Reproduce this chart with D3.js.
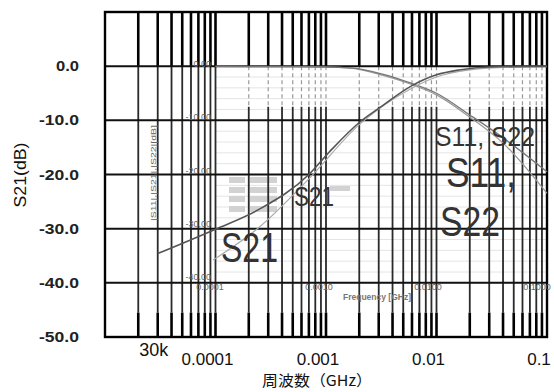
<!DOCTYPE html>
<html><head><meta charset="utf-8">
<script src="https://cdn.jsdelivr.net/npm/d3@7"></script>
<style>body{margin:0;background:#fff}svg{display:block}</style>
</head><body><svg id="c" width="554" height="392"></svg>
<script>
// ---- data ----
const xTickValues = [3e-5, 1e-4, 1e-3, 1e-2, 1e-1];
const xTickLabels = ["30k", "0.0001", "0.001", "0.01", "0.1"];
const yTickValues = [0, -10, -20, -30, -40, -50];
const yTickLabels = ["0.0", "-10.0", "-20.0", "-30.0", "-40.0", "-50.0"];
const innerYTicks = [0, -10, -20, -30, -40];
const innerYLabels = ["0.00", "-10.00", "-20.00", "-30.00", "-40.00"];
const innerXTicks = [1e-4, 1e-3, 1e-2, 1e-1];
const innerXLabels = ["0.0001", "0.0010", "0.0100", "0.1000"];

// S21 (main trace), frequency in GHz, level in dB
const s21Freq = [3e-5, 1e-4, 2.5e-4, 7e-4, 1.1e-3, 2e-3, 3e-3, 6e-3, 1e-2, 1.6e-2, 3e-2, 1e-1];
const s21dB   = [-34.6, -30.1, -26.4, -20.0, -15.6, -10.4, -7.8, -3.6, -1.6, -0.7, -0.15, 0];
// S21 (overlay trace)
const s21bFreq = [9.5e-5, 2.5e-4, 7e-4, 2e-3, 5.8e-3, 1e-2, 2e-2, 4e-2, 1e-1];
const s21bdB   = [-35.8, -29.7, -20.8, -10.8, -4.2, -2.0, -0.7, -0.25, -0.1];
// S11 / S22
const sRefFreq = [1e-4, 5.8e-4, 1.65e-3, 3.3e-3, 5.8e-3, 1e-2, 2e-2, 4e-2, 1e-1];
const s11dB    = [-0.05, -0.1, -0.3, -1.5, -3.1, -5.0, -9.0, -13.2, -19.5];
const s22dB    = [-0.05, -0.1, -0.35, -1.7, -3.3, -5.3, -9.4, -14.2, -23.5];

// ---- scales ----
const L = 105, R = 547, T = 12, B = 337;
const x = d3.scaleLog().domain([1e-5, 1e-1]).range([L, R]);
const y = d3.scaleLinear().domain([-50, 10]).range([B, T]);
const xi = d3.scaleLog().domain([1e-4, 1e-1]).range([210, 537]);
const yi = d3.scaleLinear().domain([-40, 0]).range([279, 66]);

const svg = d3.select("#c");
const font = "'Liberation Sans', Arial, sans-serif";

// inner (overlay) faint grid
const innerG = svg.append("g");
innerG.selectAll("line.h").data(d3.range(0, -41, -2)).join("line")
  .attr("x1", x(1e-4)).attr("x2", R).attr("y1", d => y(d)).attr("y2", d => y(d))
  .attr("stroke", "#e4e4e4").attr("stroke-width", 1);
innerG.append("line").attr("x1", x(1e-4)).attr("x2", x(1e-4)).attr("y1", y(0)).attr("y2", y(-40))
  .attr("stroke", "#bbb").attr("stroke-width", 1);

// legend-like gray blocks of the overlay
const blockRows = [0, 1, 2, 3];
innerG.selectAll("rect.a").data(blockRows).join("rect")
  .attr("x", 229).attr("y", d => 177 + d * 10 - (d > 1 ? 1 : 0)).attr("width", 16).attr("height", 6).attr("fill", "#d2d2d2");
innerG.selectAll("rect.b").data(blockRows).join("rect")
  .attr("x", 250).attr("y", d => 177 + d * 10 - (d > 1 ? 1 : 0)).attr("width", 27).attr("height", 6).attr("fill", "#d2d2d2");
innerG.append("rect").attr("x", 330).attr("y", 186).attr("width", 20).attr("height", 5).attr("fill", "#d2d2d2");

// vertical log grid
const vt = x.ticks().filter(f => f > 1.01e-5 && f < 0.099);
const vg = svg.append("g");
const yTopEnd = y(0), yDashEnd = y(-7.5), yBotStart = y(-45.5);
vt.forEach(f => {
  const px = x(f);
  vg.append("line").attr("x1", px).attr("x2", px).attr("y1", T).attr("y2", yTopEnd)
    .attr("stroke", "#000").attr("stroke-width", 2.6);
  if (f > 1.05e-4) {
    vg.append("line").attr("x1", px).attr("x2", px).attr("y1", yTopEnd).attr("y2", yDashEnd)
      .attr("stroke", "#999").attr("stroke-width", 1.2).attr("stroke-dasharray", "4,3");
    vg.append("line").attr("x1", px).attr("x2", px).attr("y1", yDashEnd).attr("y2", yBotStart)
      .attr("stroke", "#2a2a2a").attr("stroke-width", 1.8);
  } else {
    vg.append("line").attr("x1", px).attr("x2", px).attr("y1", yTopEnd).attr("y2", yBotStart)
      .attr("stroke", "#2a2a2a").attr("stroke-width", 1.8);
  }
  vg.append("line").attr("x1", px).attr("x2", px).attr("y1", yBotStart).attr("y2", B)
    .attr("stroke", "#000").attr("stroke-width", 2.6);
});

// horizontal grid
svg.append("g").selectAll("line").data(yTickValues.filter(v => v > -50)).join("line")
  .attr("x1", L).attr("x2", R).attr("y1", d => y(d)).attr("y2", d => y(d))
  .attr("stroke", "#111").attr("stroke-width", 2);

// frame
svg.append("rect").attr("x", L).attr("y", T).attr("width", R - L).attr("height", B - T)
  .attr("fill", "none").attr("stroke", "#000").attr("stroke-width", 2.4);

// overlay labels
const il = svg.append("g").attr("font-family", font).attr("fill", "#666");
il.selectAll("text.iy").data(innerYTicks).join("text")
  .attr("x", 211).attr("y", d => yi(d) + 1).attr("text-anchor", "end").attr("font-size", 9)
  .text((d, i) => innerYLabels[i]);
il.selectAll("text.ix").data(innerXTicks).join("text")
  .attr("x", d => xi(d)).attr("y", 290).attr("text-anchor", "middle").attr("font-size", 9)
  .text((d, i) => innerXLabels[i]);
il.append("text").attr("x", 377).attr("y", 300).attr("text-anchor", "middle").attr("fill", "#777")
  .attr("font-size", 8.5).attr("font-weight", "bold").text("Frequency [GHz]");
il.append("text").attr("transform", "translate(156,173) rotate(-90)").attr("text-anchor", "middle")
  .attr("font-size", 8).attr("textLength", 96).attr("lengthAdjust", "spacingAndGlyphs")
  .text("|S11|,|S21|,|S22|[dB]");

// curves
const line = d3.line().x(d => x(d[0])).y(d => y(d[1])).curve(d3.curveMonotoneX);
const cg = svg.append("g").attr("fill", "none");
cg.append("path").attr("d", line(sRefFreq.map((f, i) => [f, s22dB[i]]))).attr("stroke", "#999").attr("stroke-width", 1.2);
cg.append("path").attr("d", line(sRefFreq.map((f, i) => [f, s11dB[i]]))).attr("stroke", "#777").attr("stroke-width", 1.3);
cg.append("path").attr("d", line(s21bFreq.map((f, i) => [f, s21bdB[i]]))).attr("stroke", "#aaa").attr("stroke-width", 1.2);
cg.append("path").attr("d", line(s21Freq.map((f, i) => [f, s21dB[i]]))).attr("stroke", "#555").attr("stroke-width", 1.6);

// annotations
const ag = svg.append("g").attr("font-family", font).attr("fill", "#333");
function ann(t, px, py, fs, len) {
  ag.append("text").attr("x", px).attr("y", py).attr("font-size", fs)
    .attr("textLength", len).attr("lengthAdjust", "spacingAndGlyphs").text(t);
}
ann("S11, S22", 435, 146, 27, 100);
ann("S11,", 446, 187, 42, 70);
ann("S22", 440, 236, 42, 60);
ann("S21", 221, 262, 42, 57);
ann("S21", 294, 206, 27, 40);

// main y tick labels
const yl = svg.append("g").attr("font-family", font).attr("fill", "#222");
yl.selectAll("text").data(yTickValues).join("text")
  .attr("x", 79).attr("y", d => y(d) + 5).attr("text-anchor", "end")
  .attr("font-size", 14).attr("font-weight", "bold")
  .attr("textLength", (d, i) => yTickLabels[i].length === 3 ? 23 : 40)
  .attr("lengthAdjust", "spacingAndGlyphs")
  .text((d, i) => yTickLabels[i]);

// main x tick labels
const xl = svg.append("g").attr("font-family", font).attr("fill", "#111");
xl.selectAll("text").data(xTickValues).join("text")
  .attr("x", (d, i) => x(d) - (i === 0 ? 4 : 8))
  .attr("y", (d, i) => i === 0 ? 356 : 365)
  .attr("text-anchor", "middle").attr("font-size", (d, i) => i === 0 ? 18 : 17)
  .text((d, i) => xTickLabels[i]);

// axis titles
svg.append("text").attr("x", 317).attr("y", 386).attr("text-anchor", "middle")
  .attr("font-family", "'Noto Sans CJK JP', sans-serif").attr("font-size", 15).attr("fill", "#111")
  .attr("textLength", 110).attr("lengthAdjust", "spacingAndGlyphs").text("周波数（GHz）");
svg.append("text").attr("transform", "translate(26,175) rotate(-90)").attr("text-anchor", "middle")
  .attr("font-family", font).attr("font-size", 17).attr("fill", "#111")
  .attr("textLength", 65).attr("lengthAdjust", "spacingAndGlyphs").text("S21(dB)");
</script>
</body></html>
